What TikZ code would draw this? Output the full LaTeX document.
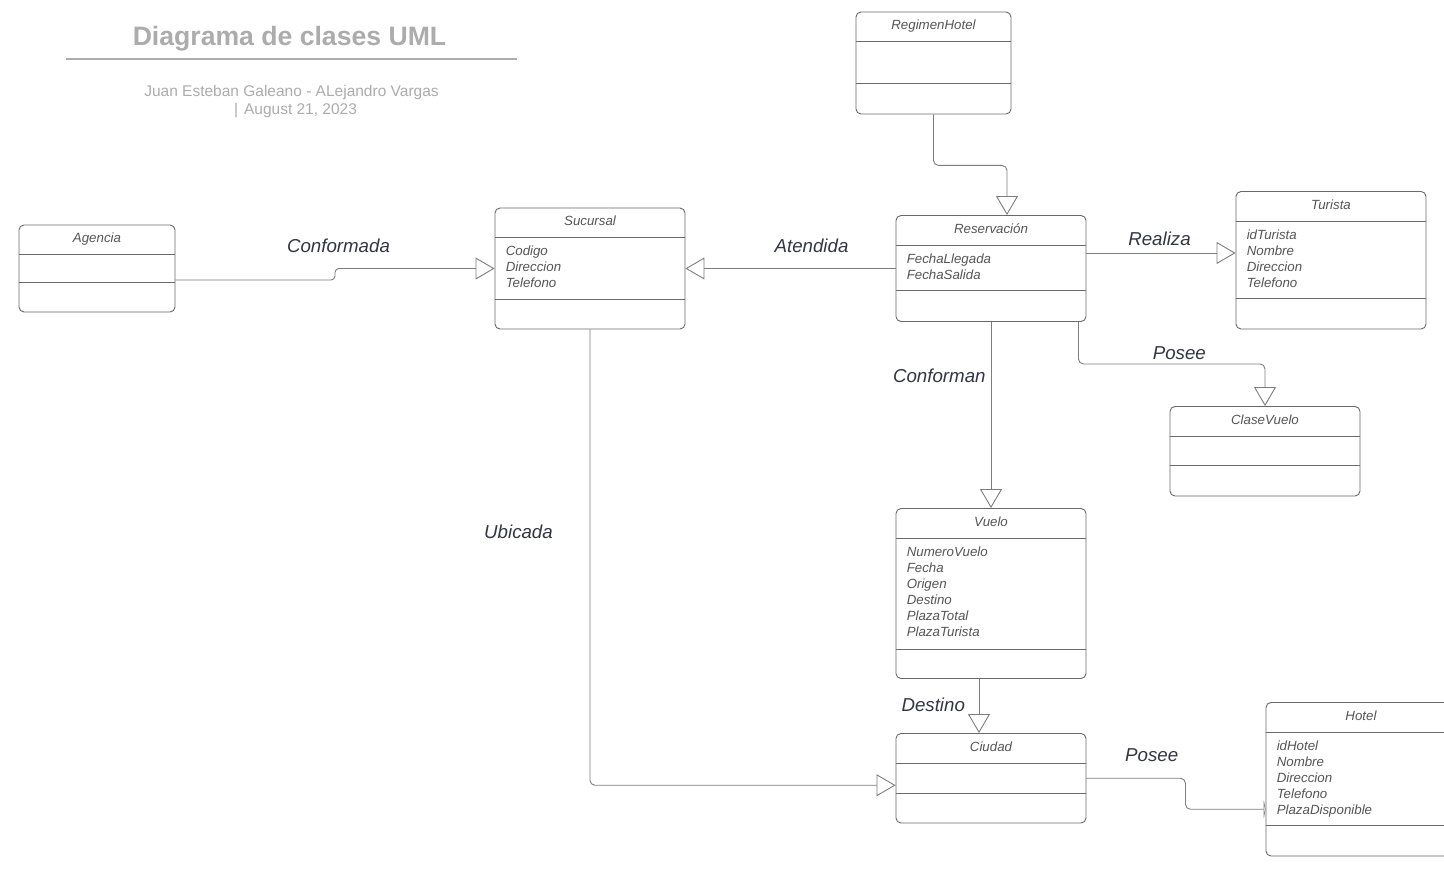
\documentclass[tikz,border=0pt]{standalone}
\usepackage{fontspec}
\setmainfont{Liberation Sans}
\usetikzlibrary{arrows.meta}

\definecolor{borde}{RGB}{105,105,105}
\definecolor{texto}{RGB}{85,85,85}
\definecolor{etiq}{RGB}{50,54,68}
\definecolor{linea}{RGB}{125,125,125}
\definecolor{titulo}{RGB}{172,172,172}

\begin{document}
\begin{tikzpicture}[x=1pt, y=-1pt,
  clase/.style = {draw=borde, line width=0.9pt, rounded corners=5pt, inner sep=0pt},
  division/.style = {draw=borde, line width=0.9pt},
  nombre/.style = {text=texto, font=\fontsize{13.3}{16}\selectfont\itshape, inner sep=0pt, anchor=base},
  atributo/.style = {text=texto, font=\fontsize{13.3}{16}\selectfont\itshape, inner sep=0pt, anchor=base west},
  etiqueta/.style = {text=etiq, font=\fontsize{18.7}{22}\selectfont\itshape, inner sep=0pt, anchor=base},
  subtitulo/.style = {text=titulo, font=\fontsize{15.5}{18}\selectfont, inner sep=0pt, anchor=base},
  conexion/.style = {draw=linea, line width=0.9pt, rounded corners=5pt, -{Triangle[open, length=19pt, width=22pt]}}]

\useasboundingbox[fill=white] (0,0) rectangle (1444,880);

% Titulo
\node[text=titulo, font=\fontsize{26.6}{30}\selectfont\bfseries, anchor=base] (titulo) at (289.5,46) {Diagrama de clases UML};
\draw[titulo, line width=1.6pt] (66,59) -- (517,59);
\node[subtitulo] (autores) at (291.5,97) {Juan Esteban Galeano - ALejandro Vargas};
\node[subtitulo] (fecha) at (295.5,115) {|\hspace{6pt}August 21, 2023};

% Clases
\foreach \n/\x/\y/\w/\h/\d/\t in {
  reg/933.5/63/155/102/72/RegimenHotel,
  ag/97/268.5/156/87/57.5/Agencia,
  suc/590/268.5/190/121/92/Sucursal,
  res/991/268.5/190/106/75.5/Reservación,
  tur/1331/260.25/190/137.5/107.5/Turista,
  cv/1265/451.25/190/89.5/59.5/ClaseVuelo,
  vue/991/593.5/190/170/141/Vuelo,
  ciu/991/778.25/190/89.5/60/Ciudad,
  hot/1361/779.25/190/153.5/123.5/Hotel} {
  \node[clase, minimum width=\w pt, minimum height=\h pt] (\n) at (\x,\y) {};
  \draw[division] ([yshift=-30pt]\n.north west) -- ([yshift=-30pt]\n.north east);
  \draw[division] ([yshift=-\d pt]\n.north west) -- ([yshift=-\d pt]\n.north east);
  \node[nombre] (\n-nombre) at ([yshift=-18pt]\n.north) {\t};
}

% Atributos
\foreach \a [count=\i] in {Codigo, Direccion, Telefono}
  \node[atributo] (suc-\i) at ([xshift=11pt, yshift={-32-16*\i}]suc.north west) {\a};
\foreach \a [count=\i] in {FechaLlegada, FechaSalida}
  \node[atributo] (res-\i) at ([xshift=11pt, yshift={-32-16*\i}]res.north west) {\a};
\foreach \a [count=\i] in {idTurista, Nombre, Direccion, Telefono}
  \node[atributo] (tur-\i) at ([xshift=11pt, yshift={-32-16*\i}]tur.north west) {\a};
\foreach \a [count=\i] in {NumeroVuelo, Fecha, Origen, Destino, PlazaTotal, PlazaTurista}
  \node[atributo] (vue-\i) at ([xshift=11pt, yshift={-32-16*\i}]vue.north west) {\a};
\foreach \a [count=\i] in {idHotel, Nombre, Direccion, Telefono, PlazaDisponible}
  \node[atributo] (hot-\i) at ([xshift=11pt, yshift={-32-16*\i}]hot.north west) {\a};

% Relaciones
\draw[conexion, rounded corners=4pt] ([yshift=-11.5pt]ag.east) -| (335,268.5) -- (suc.west);
\draw[conexion] (res.west) -- (suc.east);
\draw[conexion] (reg.south) -- ++(0,51) -| ([xshift=16pt]res.north);
\draw[conexion] ([yshift=15.5pt]res.east) -- ([yshift=15.5pt]res.east -| tur.west);
\draw[conexion] ([xshift=-8pt]res.south east) -- ++(0,42) -| (cv.north);
\draw[conexion] (res.south) -- (vue.north);
\draw[conexion] ([xshift=-12pt]vue.south) -- ([xshift=-12pt]ciu.north);
\draw[conexion] (suc.south) |- ([yshift=-7pt]ciu.west);
\draw[conexion, -{Triangle[open, length=2pt, width=22pt]}] (ciu.east) -- ++(99,0) |- ([yshift=-30pt]hot.west);

% Etiquetas
\node[etiqueta] (l-conformada) at (338.5,252) {Conformada};
\node[etiqueta] (l-atendida) at (811.5,252) {Atendida};
\node[etiqueta] (l-realiza) at (1159.5,245.5) {Realiza};
\node[etiqueta] (l-posee1) at (1179.3,359) {Posee};
\node[etiqueta] (l-conforman) at (939.3,382.5) {Conforman};
\node[etiqueta] (l-ubicada) at (518.5,538) {Ubicada};
\node[etiqueta] (l-destino) at (933.2,711.5) {Destino};
\node[etiqueta] (l-posee2) at (1151.7,761) {Posee};

\end{tikzpicture}
\end{document}
